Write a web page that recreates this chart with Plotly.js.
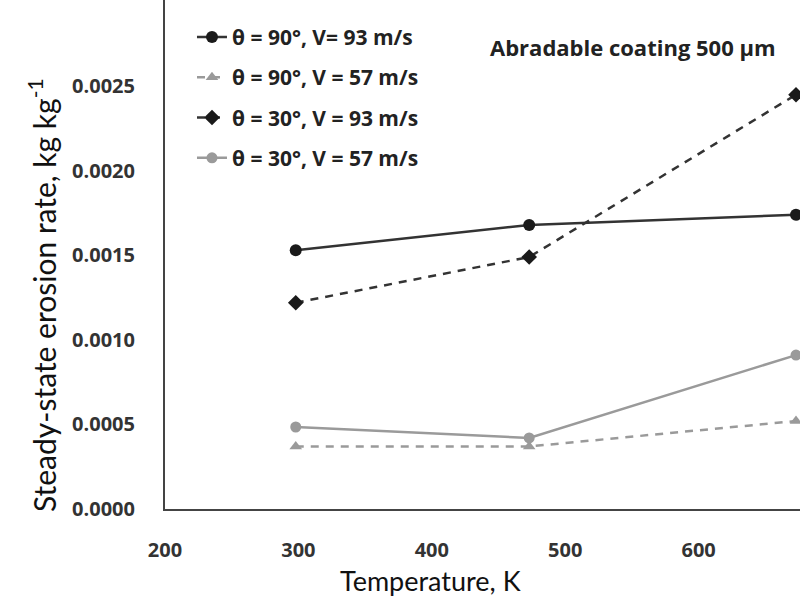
<!DOCTYPE html>
<html>
<head>
<meta charset="utf-8">
<script src="https://cdn.plot.ly/plotly-3.0.1.min.js"></script>
<style>html,body{margin:0;padding:0;background:#fff;}#chart{width:800px;height:600px;}</style>
</head>
<body>
<div id="chart"></div>
<script>
// Data
const temperatures = [298, 473, 673];
const seriesNames = [
  "θ = 90°, V= 93 m/s",
  "θ = 90°, V = 57 m/s",
  "θ = 30°, V = 93 m/s",
  "θ = 30°, V = 57 m/s"
];
const s90_93 = [0.00153, 0.00168, 0.00174];
const s90_57 = [0.00037, 0.00037, 0.00052];
const s30_93 = [0.00122, 0.00149, 0.00245];
const s30_57 = [0.000485, 0.00042, 0.00091];
const yTickVals = [0, 0.0005, 0.0010, 0.0015, 0.0020, 0.0025];
const xTickVals = [200, 300, 400, 500, 600];

const black = '#1a1a1a';
const grey = '#9a9a9a';

const traces = [
  {x: temperatures, y: s90_93, name: seriesNames[0], mode: 'lines+markers', legendgroup: 'a',
   line: {color: '#333', width: 2.5}, marker: {symbol: 'circle', size: 12, color: black}},
  {x: temperatures, y: s90_57, name: seriesNames[1], mode: 'lines+markers', legendgroup: 'b',
   line: {color: grey, width: 2.5, dash: '8px,7px'}, marker: {symbol: 'triangle-up', size: 11, color: grey}},
  {x: temperatures, y: s30_93, name: seriesNames[2], mode: 'lines+markers', legendgroup: 'c',
   line: {color: '#333', width: 2.5, dash: '8px,7px'}, marker: {symbol: 'diamond', size: 12, color: black}},
  {x: temperatures, y: s30_57, name: seriesNames[3], mode: 'lines+markers', legendgroup: 'd',
   line: {color: grey, width: 2.5}, marker: {symbol: 'circle', size: 11, color: grey}}
];

const boldFam = '"Open Sans", Lato, sans-serif';
const tickFont = {family: boldFam, size: 20, color: '#333', weight: 'bold'};

const layout = {
  width: 800, height: 600,
  margin: {l: 165, r: 0, t: 0, b: 91},
  paper_bgcolor: '#fff', plot_bgcolor: '#fff',
  showlegend: true,
  legend: {
    x: 0.0425, y: 0.967, xanchor: 'left', yanchor: 'top',
    bgcolor: 'rgba(0,0,0,0)', tracegroupgap: 10,
    font: {family: boldFam, size: 21, color: '#222', weight: 'bold'}
  },
  xaxis: {
    range: [200, 676], tickvals: xTickVals, ticktext: xTickVals.map(String),
    showgrid: false, zeroline: false, showline: true, linecolor: '#444', linewidth: 2,
    ticks: 'outside', ticklen: 22, tickcolor: 'rgba(0,0,0,0)', tickfont: tickFont
  },
  yaxis: {
    range: [0, 0.00301], tickvals: yTickVals, ticktext: yTickVals.map(v => v.toFixed(4)),
    showgrid: false, zeroline: false, showline: true, linecolor: '#444', linewidth: 2,
    ticks: 'outside', ticklen: 24, tickcolor: 'rgba(0,0,0,0)', tickfont: tickFont
  },
  annotations: [
    {text: 'Abradable coating 500 µm', xref: 'paper', yref: 'paper',
     x: (488 - 165) / 635, y: 1 - 47 / 509, xanchor: 'left', yanchor: 'middle', showarrow: false,
     font: {family: boldFam, size: 22, color: '#222', weight: 'bold'}},
    {text: 'Steady-state erosion rate, kg kg<sup>-1</sup>', xref: 'paper', yref: 'paper',
     x: (42 - 165) / 635, y: (509 - 295) / 509, xanchor: 'center', yanchor: 'middle', textangle: -90,
     showarrow: false, font: {family: 'Lato, "Open Sans", sans-serif', size: 30, color: '#111'}},
    {text: 'Temperature, K', xref: 'paper', yref: 'paper',
     x: (430 - 165) / 635, y: -(580 - 509) / 509, xanchor: 'center', yanchor: 'middle',
     showarrow: false, font: {family: 'Lato, "Open Sans", sans-serif', size: 27, color: '#111'}}
  ]
};

Plotly.newPlot('chart', traces, layout, {displayModeBar: false, staticPlot: true});
</script>
</body>
</html>
